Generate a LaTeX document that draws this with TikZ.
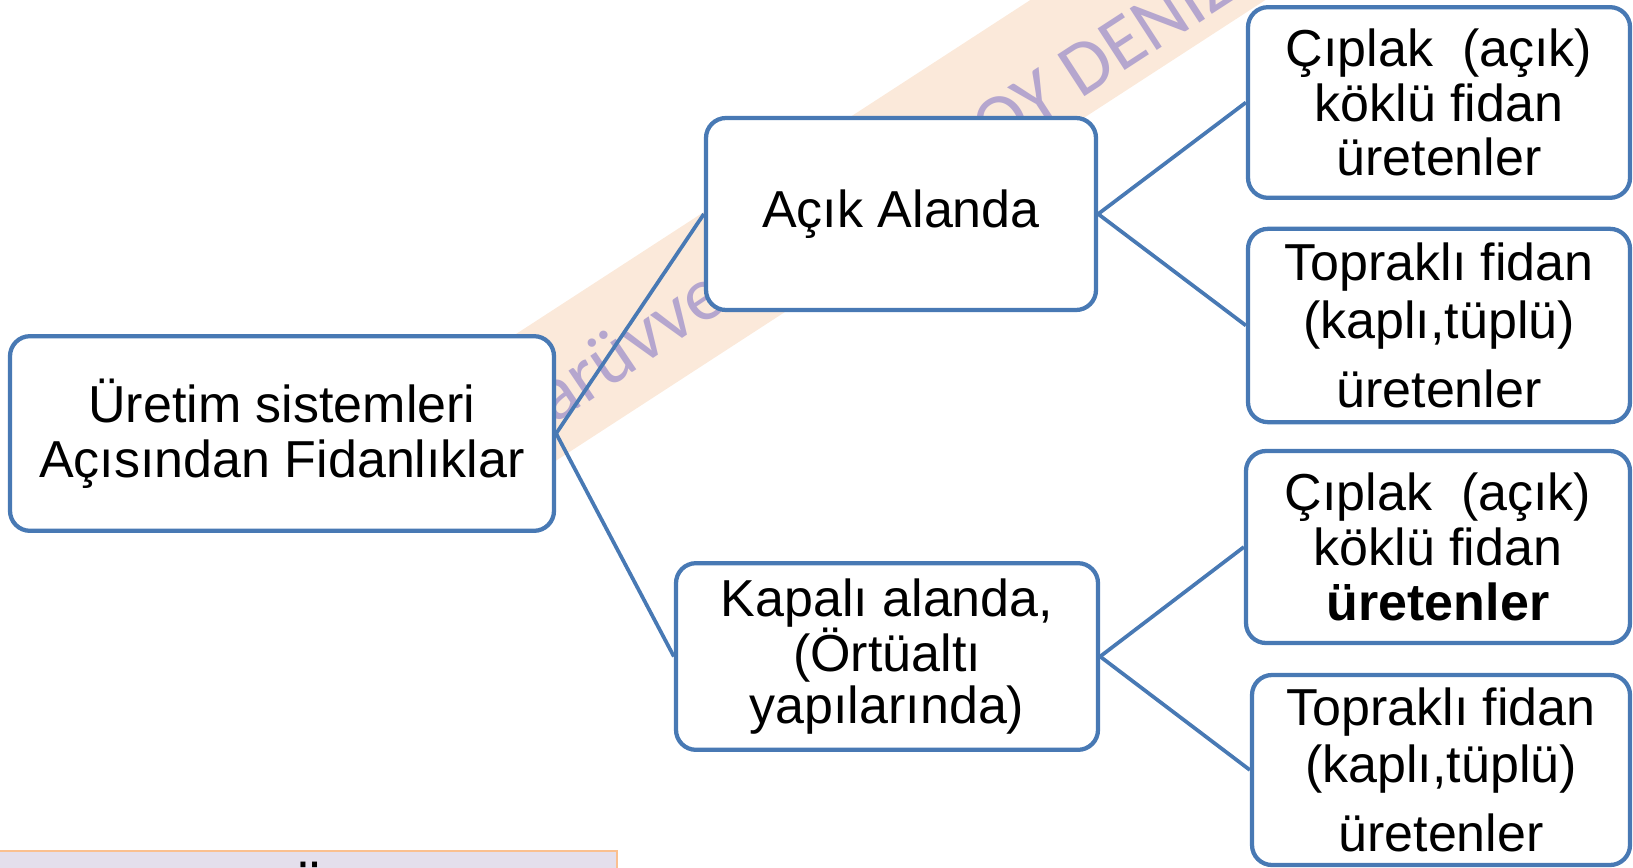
\documentclass[tikz,border=0pt]{standalone}
\usepackage{fontspec}
\setmainfont{Liberation Sans}
\newfontfamily\wmfont{Carlito}
\usepackage{tikz}

\definecolor{boxblue}{RGB}{72,121,180}
\definecolor{wmviolet}{RGB}{181,166,206}
\definecolor{wmband}{RGB}{251,233,218}
\definecolor{notefill}{RGB}{228,223,236}
\definecolor{noteline}{RGB}{250,192,144}

\begin{document}
\begin{tikzpicture}[x=0.75pt,y=0.75pt,yscale=-1,xscale=1,
  fidbox/.style={draw=boxblue,line width=3.2pt,fill=white,rounded corners=15pt,align=center,inner sep=0pt,font=\fontsize{39}{41}\selectfont},
  fidline/.style={draw=boxblue,line width=2.8pt},
  wmtext/.style={text=wmviolet,inner sep=0pt,font=\wmfont\fontsize{58}{58}\selectfont}]
\useasboundingbox (0,0) rectangle (1633,867);
\clip (0,0) rectangle (1633,867);

%Watermark band
\begin{scope}[shift={(632,335)},rotate=-33]
\fill[wmband] (-140,-64) rectangle (1000,64);
\foreach \i/\k in {1/86,2/72,3/58,4/44,5/30,6/16}
  \fill[wmband!\k!white] (-140-12*\i,-64) rectangle (-128-12*\i,64);
% Text Node
\node[wmtext,rotate=34] (wmleft) at (-8,6) {arüvve};
% Text Node
\node[wmtext,rotate=33] (wmright) at (548,16) {OY DENİZ};
\end{scope}

%Shape: Note Rect
\draw[fill=notefill,draw=noteline,line width=1.5pt] (-5,851) rectangle (617,930);
% Text Node
\node[anchor=north,inner sep=0pt,font=\bfseries\fontsize{39}{41}\selectfont] (noteU) at (309,862) {Ü};

%Shape: Rounded Rect
\node[fidbox,minimum width=408pt,minimum height=146pt] (root) at (282,433.5) {Üretim sistemleri\\Açısından Fidanlıklar};
%Shape: Rounded Rect
\node[fidbox,minimum width=292.5pt,minimum height=144pt] (acik) at (901,214) {Açık Alanda};
%Shape: Rounded Rect
\node[fidbox,minimum width=316.5pt,minimum height=140pt,font=\fontsize{39}{39}\selectfont] (kapali) at (887,656.5) {Kapalı alanda,\\(Örtüaltı\\yapılarında)};

%Shape: Rounded Rect
\node[fidbox,minimum width=286.5pt,minimum height=143pt] (acikcip) at (1439,102.5) {Çıplak\ \ (açık)\\köklü fidan\\üretenler};
%Shape: Rounded Rect
\node[fidbox,minimum width=286.5pt,minimum height=145pt,font=\fontsize{39}{43}\selectfont] (aciktop) at (1439,325.5) {Topraklı fidan\\(kaplı,tüplü)\\[9pt]üretenler};
%Shape: Rounded Rect
\node[fidbox,minimum width=288pt,minimum height=144pt] (kapcip) at (1438,547) {Çıplak\ \ (açık)\\köklü fidan\\\textbf{üretenler}};
%Shape: Rounded Rect
\node[fidbox,minimum width=283.5pt,minimum height=142.5pt,font=\fontsize{39}{43}\selectfont] (kaptop) at (1441,770) {Topraklı fidan\\(kaplı,tüplü)\\[9pt]üretenler};

%Straight Lines
\draw[fidline] (root.east) -- (acik.west);
\draw[fidline] (root.east) -- (kapali.west);
\draw[fidline] (acik.east) -- (acikcip.west);
\draw[fidline] (acik.east) -- (aciktop.west);
\draw[fidline] (kapali.east) -- (kapcip.west);
\draw[fidline] (kapali.east) -- (kaptop.west);

\end{tikzpicture}
\end{document}
